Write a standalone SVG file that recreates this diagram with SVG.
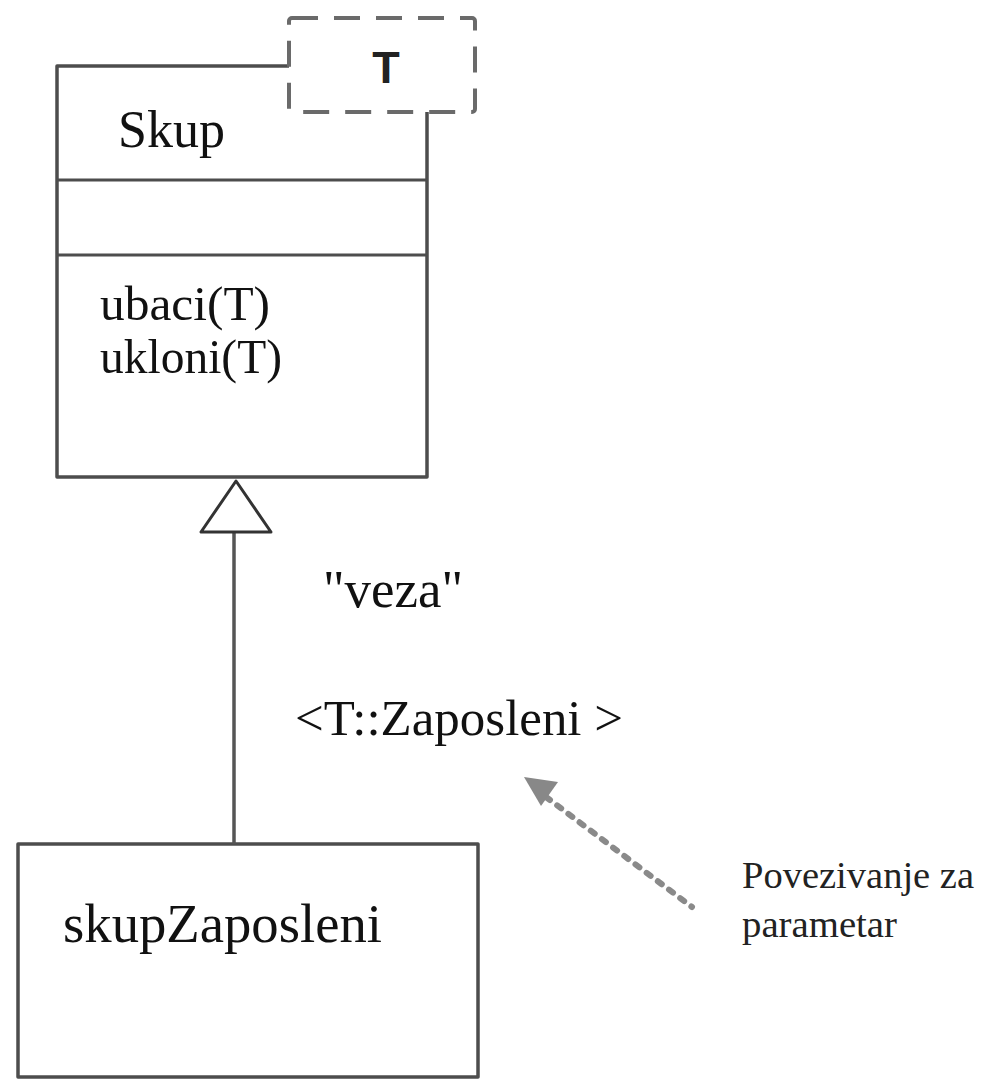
<svg xmlns="http://www.w3.org/2000/svg" width="990" height="1081" viewBox="0 0 990 1081">
  <style>
    .box { fill: none; stroke: #4d4d4d; stroke-width: 3.5; stroke-linejoin: round; }
    .div { fill: none; stroke: #4d4d4d; stroke-width: 3; }
    .tmpl { fill: none; stroke: #6a6a6a; stroke-width: 4; stroke-dasharray: 26 16; }
    .serif { font-family: "Liberation Serif", "Times New Roman", serif; fill: #111; }
    .note { font-family: "Liberation Serif", "Times New Roman", serif; fill: #222; }
    .gen { fill: #fff; stroke: #333; stroke-width: 3; stroke-linejoin: round; }
    .dep { fill: none; stroke: #8a8a8a; stroke-width: 6; stroke-linecap: round; stroke-dasharray: 5 9; }
  </style>
  <rect width="990" height="1081" fill="#fff"/>

  <!-- template class Skup with parameter box T -->
  <g id="skup">
    <path class="box" d="M289,66 H57 V477 H427 V112"/>
    <line class="div" x1="57" y1="180" x2="427" y2="180"/>
    <line class="div" x1="57" y1="255" x2="427" y2="255"/>
    <text class="serif" x="118" y="147" font-size="52">Skup</text>
    <text class="serif" x="100" y="320" font-size="49" textLength="170" lengthAdjust="spacingAndGlyphs">ubaci(T)</text>
    <text class="serif" x="100" y="373" font-size="49" textLength="182" lengthAdjust="spacingAndGlyphs">ukloni(T)</text>
  </g>
  <g id="param-T">
    <rect class="tmpl" x="289" y="18" width="186" height="94" rx="3"/>
    <text x="386" y="83" font-family="Liberation Sans, Arial, sans-serif" font-weight="bold" font-size="45" text-anchor="middle" fill="#222">T</text>
  </g>

  <!-- bound class -->
  <g id="skupZaposleni">
    <rect class="box" x="18" y="844" width="460" height="233"/>
    <text class="serif" x="63" y="942" font-size="55" textLength="319" lengthAdjust="spacingAndGlyphs">skupZaposleni</text>
  </g>

  <!-- connectors -->
  <g id="connectors">
    <line x1="234" y1="532" x2="234" y2="844" stroke="#555" stroke-width="3.5"/>
    <polygon class="gen" points="236,481 201,532 271,532"/>
    <line class="dep" x1="546" y1="797" x2="692" y2="907"/>
    <polygon points="524,777 558,782 541,806" fill="#888"/>
  </g>

  <!-- binding labels -->
  <g id="labels">
    <text class="serif" x="323" y="607" font-size="53" textLength="140" lengthAdjust="spacingAndGlyphs">"veza"</text>
    <text class="serif" x="295" y="735" font-size="50" textLength="328" lengthAdjust="spacingAndGlyphs">&lt;T::Zaposleni &gt;</text>
  </g>

  <g id="note">
    <text class="note" x="742" y="888" font-size="38" textLength="232" lengthAdjust="spacingAndGlyphs">Povezivanje za</text>
    <text class="note" x="742" y="937" font-size="38" textLength="155" lengthAdjust="spacingAndGlyphs">parametar</text>
  </g>
</svg>
